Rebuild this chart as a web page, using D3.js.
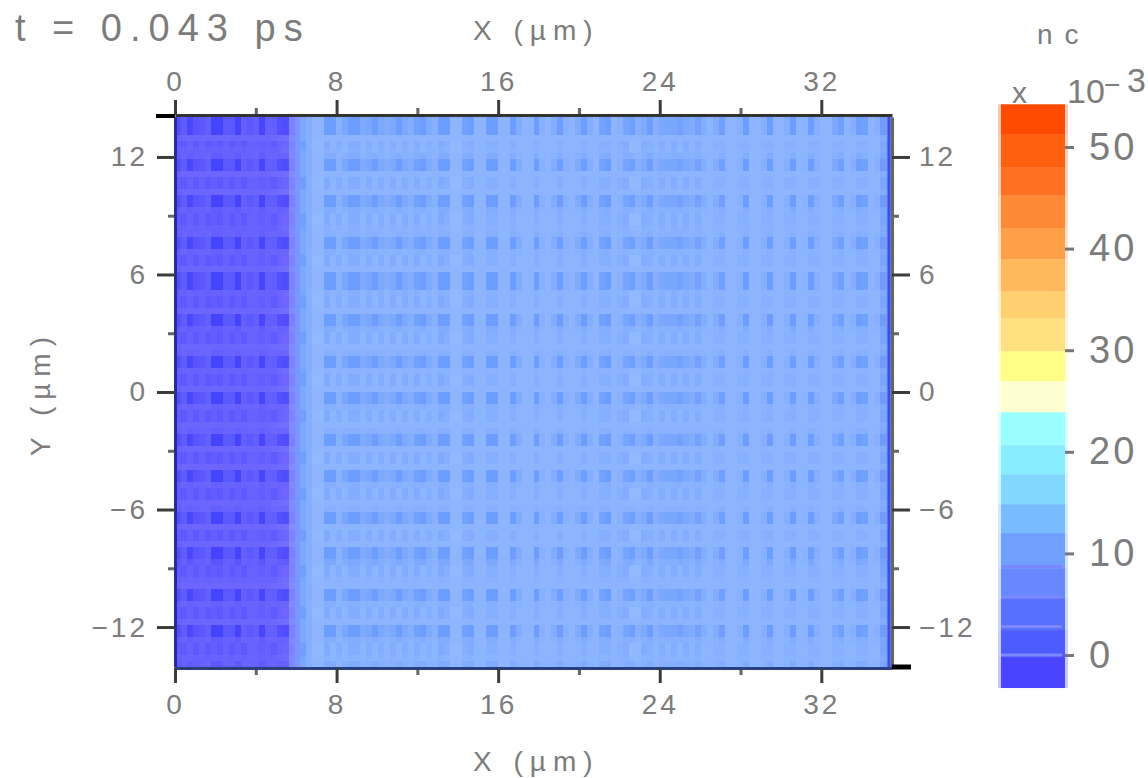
<!DOCTYPE html>
<html>
<head>
<meta charset="utf-8">
<script src="https://cdnjs.cloudflare.com/ajax/libs/d3/7.8.5/d3.min.js"></script>
<style>
  body { margin: 0; background: #fff; }
  svg { display: block; }
  text { font-family: "Liberation Sans", sans-serif; fill: #7c7c7c; }
</style>
</head>
<body>
<div id="chart"></div>
<script>
// nc, one entry per column (about 6 px wide), left to right
const colLevel = [3.4, 4, 4, 4, 4, 4, 4, 4, 4, 4, 4, 4, 4, 4, 4, 4, 4.2, 4.4, 4.6, 6.6,
  8, 10, 10.6, 11.2, 11.2, 11, 11, 11, 11, 11, 11, 11, 11, 11, 11, 11, 11, 11, 11, 11,
  11, 11, 11, 11, 11, 11, 11.2, 11.2, 11, 11, 11, 11, 11, 11, 11, 11, 11, 11, 11, 11,
  11, 11, 11, 11, 11, 11, 11, 11, 11, 11, 11, 11, 11, 11, 11, 11, 11.2, 11.2, 11, 11,
  11, 11, 11, 11, 11, 11, 11, 11, 11, 11, 11, 11, 11, 11, 11, 11, 11, 11, 11, 11,
  11, 11, 11, 11, 11, 11, 11, 11, 11, 11, 11, 11, 11, 11, 11, 11, 11, 11, 10.4, 9.6];
// how far a column drops in the dark rows
const colDip = [2, 1.2, 3.5, 2, 1.6, 0.8, 4, 4, 1.6, 1.6, 4, 1, 1.6, 1, 3.8, 1, 1.2, 3, 3.5, 0.6,
  0.4, 0, 0, 0.2, 0.2, 2, 2, 0.3, 1.2, 2, 2, 0.8, 1.2, 2, 1, 0.6, 1, 2, 1, 0.5,
  1.6, 2, 0.8, 0.3, 2, 2, 0, 0, 1.6, 2, 0, 0, 2, 2, 0, 0, 2, 0.6, 0, 0,
  2, 0.3, 0, 0.6, 2, 0.3, 0, 0.8, 2, 0.5, 0, 1.6, 2, 0, 0.3, 1.4, 2, 0.6, 0.8, 2,
  0.4, 1, 1.2, 1.2, 1.6, 1, 0.6, 1.6, 0.6, 0, 0.6, 1.8, 0, 0, 0.3, 2, 0, 0, 0.4, 2,
  0, 0, 0.4, 2, 0, 0.2, 2, 0.5, 0, 0, 1, 1.8, 0, 0.4, 2, 1.6, 0, 0.4, 1.8, 1.8];
// how far a column drops in the fine-pattern rows
const colFine = [0.8, 1.5, 0.6, 1.5, 0.6, 1.5, 1, 1.5, 0.6, 1.5, 0.8, 1.5, 0.6, 0.6, 1, 0.6, 1.6, 0.8, 0.6, 0.5,
  0.3, 0.8, 0, -0.2, -0.2, 0.8, 0, 0.6, 0, 0.7, 0.7, 0, 0.7, 0, 0.7, 0, 0.7, 0, 0.7, 0,
  0.7, 0, 0.5, 0, 0.8, 0.4, -0.3, -0.3, 0.4, 0.7, 0, 0, 0.5, 0.5, 0, 0, 0.5, 0, 0, 0,
  0.5, 0, 0, 0, 0.5, 0, 0, 0, 0.5, 0, 0, 0.5, 0.5, 0, 0.4, 0.7, -0.3, -0.3, 0.6, 0.4,
  0, 0.7, 0, 0.7, 0, 0.7, 0, 0.7, 0, 0, 0.3, 0.3, 0, 0, 0.3, 0.4, 0, 0, 0.3, 0.4,
  0, 0, 0.3, 0.4, 0, 0, 0.4, 0.3, 0, 0, 0.3, 0.3, 0, 0, 0.4, 0.3, 0, 0, 0.6, 0.6];
// row weights, one entry per row (about 6 px tall), top to bottom
const rowDark = [1, 1, 1, 0, 0, 0, 0.3, 1, 1, 0, 0, 0, 0, 1, 1, 0.3, 0, 0, 0, 0.2,
  1, 1, 0.2, 0, 0, 0, 1, 1, 1, 0, 0, 0, 0, 1, 1, 0.3, 0, 0, 0, 0.2,
  1, 1, 0, 0, 0, 0, 1, 1, 0.2, 0, 0, 0, 0.2, 1, 1, 0, 0, 0, 0, 1,
  1, 0.2, 0, 0, 0, 0.2, 1, 1, 0, 0, 0, 0, 1, 1, 0.5, 0, 0, 0, 0, 1,
  1, 0.2, 0, 0, 0, 1, 1, 0.3, 0, 0, 0, 0.4];
const rowFine = [0, 0, 0, 0, 1, 0.5, 0, 0, 0, 0, 1, 1, 0, 0, 0, 0, 1, 1, 0.5, 0,
  0, 0, 0, 1, 1, 0, 0, 0, 0, 0.5, 1, 1, 0, 0, 0, 0, 1, 1, 0, 0,
  0, 0, 0.3, 1, 1, 0, 0, 0, 0, 1, 1, 0, 0, 0, 0, 0, 1, 1, 0, 0,
  0, 0, 1, 1, 0, 0, 0, 0, 0, 1, 1, 0, 0, 0, 0, 1, 1, 0.3, 0, 0,
  0, 0, 1, 1, 0, 0, 0, 0, 1, 1, 0.4, 0];

const fieldStops = [0, 4, 7, 9, 11, 12];
const fieldColors = ["#4444ff", "#6c66ff", "#8490ff", "#6c9eff", "#8cb4ff", "#96beff"];

// colour bar
const barEdges = [-3.25, -0.2, 2.45, 5.6, 8.55, 12, 14.85, 17.8, 20.65, 23.9, 26.95, 29.9, 33.15, 35.8, 38.95, 41.95, 45.2, 47.95, 51.2, 54.2];
const barColors = ["#4844ff", "#4c5cff", "#5870ff", "#6888ff", "#70a0ff", "#78bbff", "#80d8ff", "#88eeff", "#99ffff", "#ffffd2",
  "#ffff88", "#ffe080", "#ffd070", "#ffb85c", "#ffa048", "#ff8a36", "#ff7020", "#ff6010", "#ff4a00"];
const barSeams = [0, 2.8, 5.7, 8.7];
const barTicks = [0, 10, 20, 30, 40, 50];

const xMajor = [0, 8, 16, 24, 32];
const xMinor = [4, 12, 20, 28];
const yMajor = [-12, -6, 0, 6, 12];
const yMinor = [-9, -3, 3, 9];

const width = 1148, height = 778;
const plot = { left: 175, right: 892, top: 117, bottom: 667 };

const svg = d3.select("#chart").append("svg")
  .attr("width", width)
  .attr("height", height);

const x = d3.scaleLinear().domain([0, 35.5]).range([plot.left, plot.right]);
const y = d3.scaleLinear().domain([14.04, -14.04]).range([plot.top, plot.bottom]);
const col = d3.scaleBand().domain(d3.range(colLevel.length)).range([plot.left, plot.right]);
const row = d3.scaleBand().domain(d3.range(rowDark.length)).range([plot.top, plot.bottom]);
const fieldColor = d3.scaleLinear().domain(fieldStops).range(fieldColors).clamp(true);

const cells = [];
rowDark.forEach((rd, r) => {
  colLevel.forEach((lv, c) => {
    cells.push({ r, c, v: lv - rd * colDip[c] - rowFine[r] * colFine[c] });
  });
});

svg.append("g").selectAll("rect")
  .data(cells)
  .join("rect")
  .attr("x", d => col(d.c))
  .attr("y", d => row(d.r))
  .attr("width", col.bandwidth() + 0.5)
  .attr("height", row.bandwidth() + 0.5)
  .attr("fill", d => fieldColor(d.v))
  .attr("shape-rendering", "crispEdges");

// dark blue strip along the right edge of the field
svg.append("line")
  .attr("x1", plot.right - 3).attr("x2", plot.right - 3)
  .attr("y1", plot.top).attr("y2", plot.bottom)
  .attr("stroke", "#4050d8").attr("stroke-width", 3);

// axes
function addAxis(axisFn, scale, major, minor, translate, lineColor) {
  const vertical = axisFn === d3.axisLeft || axisFn === d3.axisRight;
  svg.append("g")
    .attr("transform", translate)
    .call(axisFn(scale).tickValues(minor).tickSize(7).tickFormat(""))
    .call(g => g.select(".domain").remove())
    .call(g => g.selectAll(".tick line").attr("stroke", "#666").attr("stroke-width", 3));
  const g = svg.append("g")
    .attr("transform", translate)
    .call(axisFn(scale).tickValues(major).tickSizeOuter(0)
      .tickSizeInner(vertical ? 18 : 15)
      .tickPadding(axisFn === d3.axisBottom ? 11 : 9)
      .tickFormat(d3.format("d")));
  g.select(".domain").attr("stroke", lineColor).attr("stroke-width", 3);
  g.selectAll(".tick line").attr("stroke", "#3c3c3c").attr("stroke-width", 3);
  g.selectAll("text")
    .style("font-size", "28px")
    .style("letter-spacing", "3px")
    .style("fill", "#7c7c7c");
}

addAxis(d3.axisLeft, y, yMajor, yMinor, `translate(${plot.left},0)`, "#2a2a92");
addAxis(d3.axisRight, y, yMajor, yMinor, `translate(${plot.right},0)`, "#666");
addAxis(d3.axisBottom, x, xMajor, xMinor, `translate(0,${plot.bottom + 1})`, "#2a3f80");
addAxis(d3.axisTop, x, xMajor, xMinor, `translate(0,${plot.top - 2})`, "#333");

// the black end ticks at the top left and bottom right corners
svg.append("line").attr("x1", 156).attr("x2", plot.left).attr("y1", 116).attr("y2", 116).attr("stroke", "#000").attr("stroke-width", 4);
svg.append("line").attr("x1", plot.right).attr("x2", 911).attr("y1", 667).attr("y2", 667).attr("stroke", "#000").attr("stroke-width", 5);

// colour bar
const barY = d3.scaleLinear().domain([0, 50]).range([655, 147]);
const bar = svg.append("g");
const bands = barColors.map((c, i) => ({ c, lo: barEdges[i], hi: barEdges[i + 1] }));

bar.selectAll("rect.halo")
  .data(bands)
  .join("rect")
  .attr("class", "halo")
  .attr("x", 998)
  .attr("width", 70)
  .attr("y", d => barY(d.hi))
  .attr("height", d => barY(d.lo) - barY(d.hi))
  .attr("fill", d => d.c)
  .attr("opacity", 0.3);

bar.selectAll("rect.band")
  .data(bands)
  .join("rect")
  .attr("class", "band")
  .attr("x", 1001)
  .attr("width", 64)
  .attr("y", d => barY(d.hi))
  .attr("height", d => barY(d.lo) - barY(d.hi))
  .attr("fill", d => d.c);

bar.selectAll("line.seam")
  .data(barSeams)
  .join("line")
  .attr("class", "seam")
  .attr("x1", 1001)
  .attr("x2", 1062)
  .attr("y1", d => barY(d))
  .attr("y2", d => barY(d))
  .attr("stroke", "#7c88ff")
  .attr("stroke-width", 3);

const barAxis = svg.append("g")
  .attr("transform", "translate(1065,0)")
  .call(d3.axisRight(barY).tickValues(barTicks).tickSizeOuter(0).tickSize(9).tickPadding(15).tickFormat(d3.format("d")));
barAxis.select(".domain").remove();
barAxis.selectAll(".tick line").attr("stroke", "#777").attr("stroke-width", 3);
barAxis.selectAll("text")
  .style("font-size", "38px")
  .style("letter-spacing", "3px")
  .style("fill", "#7c7c7c");

// titles
function label(txt, px, py, size, spacing) {
  return svg.append("text")
    .attr("x", px)
    .attr("y", py)
    .style("font-size", size + "px")
    .style("letter-spacing", spacing + "px")
    .text(txt);
}

label("t = 0.043 ps", 15, 41, 38, 8);
label("X (µm)", 473, 40, 28, 7);
label("X (µm)", 473, 771, 28, 7);
label("nc", 1037, 44, 28, 12);
label("x", 1012, 103, 30, 0);
label("10", 1067, 103, 34, 0);
label("−", 1104, 94, 28, 0);
label("3", 1127, 92, 34, 0);

svg.append("text")
  .attr("transform", "translate(50,393) rotate(-90)")
  .attr("text-anchor", "middle")
  .style("font-size", "28px")
  .style("letter-spacing", "7px")
  .text("Y (µm)");
</script>
</body>
</html>
